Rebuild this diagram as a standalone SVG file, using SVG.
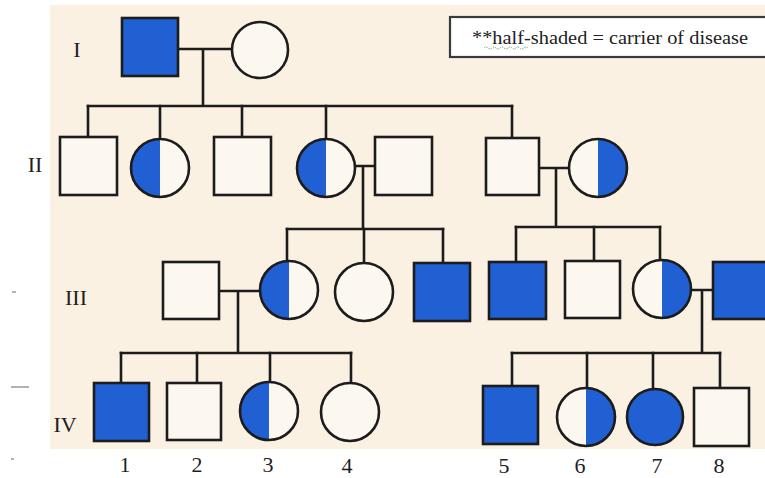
<svg xmlns="http://www.w3.org/2000/svg" width="765" height="478" viewBox="0 0 765 478">
  <defs>
    <style>
      .bg { fill: #fbf1e3; }
      .sym { stroke: #1c1c1c; stroke-width: 2.6; }
      .open { fill: #fdf8ef; }
      .aff { fill: #2160d2; }
      .half { fill: #2160d2; stroke: none; }
      .line { stroke: #1c1c1c; stroke-width: 2.6; fill: none; stroke-linecap: square; }
      .gen { font-family: "Liberation Serif", "Times New Roman", serif; font-size: 22px; fill: #1e1e1e; text-anchor: middle; }
      .num { font-family: "Liberation Serif", "Times New Roman", serif; font-size: 22px; fill: #1e1e1e; text-anchor: middle; }
      .legend { font-family: "Liberation Serif", "Times New Roman", serif; font-size: 18px; fill: #222; }
      .mark { stroke: #9a9a9a; stroke-width: 1.5; }
    </style>
  </defs>

  <!-- page -->
  <rect x="0" y="0" width="765" height="478" fill="#ffffff"/>
  <rect class="bg" x="50" y="5" width="715" height="444"/>

  <!-- stray margin marks -->
  <line class="mark" x1="12" y1="292" x2="16" y2="292"/>
  <line class="mark" x1="11" y1="387" x2="29" y2="387"/>
  <line class="mark" x1="11" y1="459" x2="14" y2="459"/>

  <!-- legend -->
  <g id="legend">
    <rect x="450" y="17" width="330" height="40" fill="#ffffff" stroke="#3a3a3a" stroke-width="2.2"/>
    <text class="legend" x="472" y="44" textLength="276" lengthAdjust="spacingAndGlyphs">**half-shaded = carrier of disease</text>
    <path d="M484 48 q2 -2 4 0 t4 0 t4 0 t4 0 t4 0 t4 0 t4 0 t4 0 t4 0 t4 0 t4 0" fill="none" stroke="#6fae5a" stroke-width="1" stroke-dasharray="1.5 1"/>
  </g>

  <!-- generation labels -->
  <g id="generation-labels">
    <text class="gen" x="77" y="57">I</text>
    <text class="gen" x="35" y="172">II</text>
    <text class="gen" x="76" y="305">III</text>
    <text class="gen" x="65" y="432">IV</text>
  </g>

  <!-- connectors -->
  <g id="connectors">
    <!-- generation I couple -->
    <path class="line" d="M178 49 H232 M203 49 V106 M88 106 H512"/>
    <path class="line" d="M88 106 V137 M160 106 V139 M242 106 V137 M326 106 V139 M512 106 V138"/>
    <!-- II-4 x II-5 -->
    <path class="line" d="M355 166 H375 M363 166 V229 M287 229 H443"/>
    <path class="line" d="M287 229 V261 M364 229 V263 M443 229 V263"/>
    <!-- II-6 x II-7 -->
    <path class="line" d="M539 168 H569 M556 168 V227 M516 227 H660"/>
    <path class="line" d="M516 227 V262 M594 227 V261 M660 227 V260"/>
    <!-- III-1 x III-2 -->
    <path class="line" d="M219 291 H260 M238 291 V353 M121 353 H351"/>
    <path class="line" d="M121 353 V383 M197 353 V383 M270 353 V382 M351 353 V383"/>
    <!-- III-7 x III-8 -->
    <path class="line" d="M691 290 H713 M702 290 V353 M512 353 H720"/>
    <path class="line" d="M512 353 V386 M587 353 V388 M653 353 V389 M720 353 V388"/>
  </g>

  <!-- generation I -->
  <g id="I-1"><rect class="sym aff" x="122" y="18" width="56" height="58"/></g>
  <g id="I-2"><circle class="sym open" cx="260" cy="50" r="28"/></g>

  <!-- generation II -->
  <g id="II-1"><rect class="sym open" x="60" y="137" width="57" height="58"/></g>
  <g id="II-2">
    <circle class="open" cx="160" cy="168" r="29"/>
    <path class="half" d="M160 139 A29 29 0 0 0 160 197 Z"/>
    <circle class="sym" fill="none" cx="160" cy="168" r="29"/>
  </g>
  <g id="II-3"><rect class="sym open" x="214" y="137" width="57" height="58"/></g>
  <g id="II-4">
    <circle class="open" cx="326" cy="168" r="29"/>
    <path class="half" d="M326 139 A29 29 0 0 0 326 197 Z"/>
    <circle class="sym" fill="none" cx="326" cy="168" r="29"/>
  </g>
  <g id="II-5"><rect class="sym open" x="375" y="137" width="57" height="58"/></g>
  <g id="II-6"><rect class="sym open" x="486" y="138" width="53" height="57"/></g>
  <g id="II-7">
    <circle class="open" cx="598" cy="168" r="29"/>
    <path class="half" d="M598 139 A29 29 0 0 1 598 197 Z"/>
    <circle class="sym" fill="none" cx="598" cy="168" r="29"/>
  </g>

  <!-- generation III -->
  <g id="III-1"><rect class="sym open" x="163" y="262" width="56" height="57"/></g>
  <g id="III-2">
    <circle class="open" cx="289" cy="290" r="29"/>
    <path class="half" d="M289 261 A29 29 0 0 0 289 319 Z"/>
    <circle class="sym" fill="none" cx="289" cy="290" r="29"/>
  </g>
  <g id="III-3"><circle class="sym open" cx="364" cy="292" r="29"/></g>
  <g id="III-4"><rect class="sym aff" x="414" y="263" width="56" height="58"/></g>
  <g id="III-5"><rect class="sym aff" x="489" y="262" width="57" height="57"/></g>
  <g id="III-6"><rect class="sym open" x="565" y="261" width="55" height="57"/></g>
  <g id="III-7">
    <circle class="open" cx="662" cy="289" r="29"/>
    <path class="half" d="M662 260 A29 29 0 0 1 662 318 Z"/>
    <circle class="sym" fill="none" cx="662" cy="289" r="29"/>
  </g>
  <g id="III-8"><rect class="sym aff" x="713" y="262" width="62" height="57"/></g>

  <!-- generation IV -->
  <g id="IV-1"><rect class="sym aff" x="94" y="383" width="55" height="58"/></g>
  <g id="IV-2"><rect class="sym open" x="167" y="383" width="54" height="57"/></g>
  <g id="IV-3">
    <circle class="open" cx="269" cy="411" r="29"/>
    <path class="half" d="M269 382 A29 29 0 0 0 269 440 Z"/>
    <circle class="sym" fill="none" cx="269" cy="411" r="29"/>
  </g>
  <g id="IV-4"><circle class="sym open" cx="350" cy="412" r="29"/></g>
  <g id="IV-5"><rect class="sym aff" x="483" y="386" width="55" height="58"/></g>
  <g id="IV-6">
    <circle class="open" cx="586" cy="417" r="29"/>
    <path class="half" d="M586 388 A29 29 0 0 1 586 446 Z"/>
    <circle class="sym" fill="none" cx="586" cy="417" r="29"/>
  </g>
  <g id="IV-7"><circle class="sym aff" cx="655" cy="417" r="28"/></g>
  <g id="IV-8"><rect class="sym open" x="694" y="388" width="55" height="58"/></g>

  <!-- individual numbers -->
  <g id="numbers">
    <text class="num" x="125" y="472">1</text>
    <text class="num" x="197" y="472">2</text>
    <text class="num" x="268" y="472">3</text>
    <text class="num" x="347" y="473">4</text>
    <text class="num" x="504" y="473">5</text>
    <text class="num" x="580" y="473">6</text>
    <text class="num" x="657" y="473">7</text>
    <text class="num" x="719" y="473">8</text>
  </g>
</svg>
